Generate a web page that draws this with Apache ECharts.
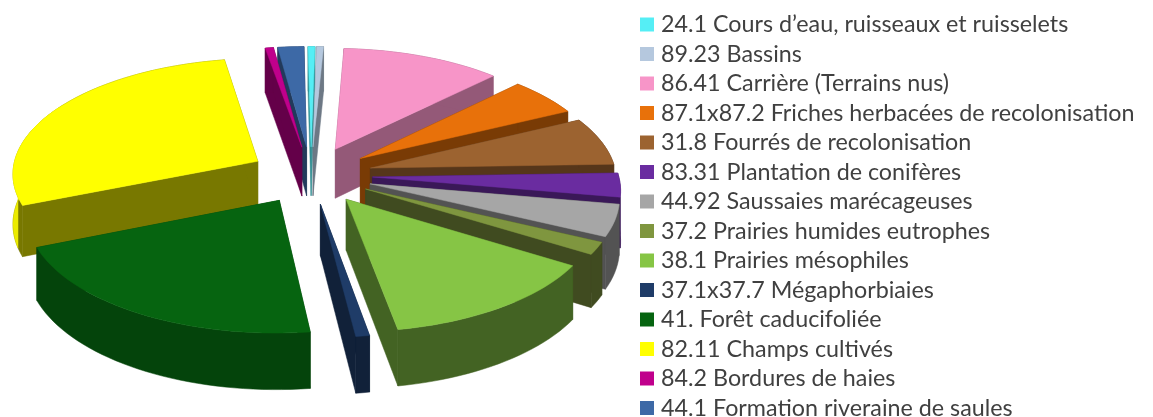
<!DOCTYPE html>
<html>
<head>
<meta charset="utf-8">
<style>
    html, body {margin:0;padding:0;background:#fff;}
    #chart {width:1153px;height:417px;}
</style>
<script src="https://cdn.jsdelivr.net/npm/echarts@6/dist/echarts.min.js"></script>
</head>
<body>
<div id="chart"></div>
<script>
    const categories = [
        '24.1 Cours d\u2019eau, ruisseaux et ruisselets',
        '89.23 Bassins',
        '86.41 Carrière (Terrains nus)',
        '87.1x87.2 Friches herbacées de recolonisation',
        '31.8 Fourrés de recolonisation',
        '83.31 Plantation de conifères',
        '44.92 Saussaies marécageuses',
        '37.2 Prairies humides eutrophes',
        '38.1 Prairies mésophiles',
        '37.1x37.7 Mégaphorbiaies',
        '41. Forêt caducifoliée',
        '82.11 Champs cultivés',
        '84.2 Bordures de haies',
        '44.1 Formation riveraine de saules'
    ];
    // share of the total, in %
    const shares = [0.5, 0.5, 11.7, 5.3, 6.7, 3.3, 4.4, 1.7, 13.4, 0.8, 20.8, 28.5, 0.6, 1.9];
    const colors = ['#55eef5', '#b5c8de', '#f795c8', '#e8710a', '#9c6330', '#6a2ca0', '#a6a6a6',
        '#7f963f', '#86c545', '#1f3c68', '#066410', '#ffff00', '#c0008c', '#3d69a6'];
    const sideFactors = [0.6, 0.6, 0.6, 0.52, 0.55, 0.55, 0.5, 0.5, 0.5, 0.55, 0.68, 0.47, 0.52, 0.55];

    const centerX = 311, centerY = 175;
    const radiusX = 246, radiusY = 115;
    const depth = 50, explode = 0.25, perspective = 0.095;
    const startAngle = -0.8;
    const litFrom = 252, litTo = 300;

    const total = shares.reduce((a, b) => a + b, 0);
    let acc = startAngle;
    const slices = shares.map((v, i) => {
        const from = acc;
        acc += v / total * 360;
        return {index: i, from: from, to: acc, mid: (from + acc) / 2};
    });

    function project(gx, gy, down) {
        const s = 1 / (1 - perspective * gy);
        return [centerX + gx * radiusX * s, centerY + (gy * radiusY + down * depth) * s];
    }

    function shade(color, factor) {
        const c = echarts.color.parse(color);
        return 'rgb(' + Math.round(c[0] * factor) + ',' + Math.round(c[1] * factor) + ',' + Math.round(c[2] * factor) + ')';
    }

    function buildSlice(slice) {
        const color = colors[slice.index];
        const rad = d => d * Math.PI / 180;
        const ox = explode * Math.sin(rad(slice.mid));
        const oy = -explode * Math.cos(rad(slice.mid));
        const arc = (from, to, down) => {
            const pts = [];
            const steps = Math.max(2, Math.ceil((to - from) / 2));
            for (let k = 0; k <= steps; k++) {
                const a = rad(from + (to - from) * k / steps);
                pts.push(project(ox + Math.sin(a), oy - Math.cos(a), down));
            }
            return pts;
        };
        const wall = (from, to) => arc(from, to, 0).concat(arc(from, to, 1).reverse());
        const apexTop = project(ox, oy, 0), apexBottom = project(ox, oy, 1);
        const top = arc(slice.from, slice.to, 0), bottom = arc(slice.from, slice.to, 1);
        const side = shade(color, sideFactors[slice.index]);
        const poly = (points, fill) => ({
            type: 'polygon',
            shape: {points: points},
            style: {fill: fill, stroke: fill, lineWidth: 0.5}
        });
        const children = [
            poly([apexTop, top[0], bottom[0], apexBottom], side),
            poly([apexTop, top[top.length - 1], bottom[bottom.length - 1], apexBottom], side),
            poly(wall(slice.from, slice.to), side)
        ];
        // the part of the outer wall facing west catches the light
        const litStart = Math.max(slice.from, litFrom), litEnd = Math.min(slice.to, litTo);
        if (litEnd > litStart) {
            children.push(poly(wall(litStart, litEnd), shade(color, 0.92)));
        }
        children.push(poly([apexTop].concat(top), color));
        return {type: 'group', children: children};
    }

    // back slices first, so the front ones paint over them
    const drawOrder = slices.slice().sort((a, b) => Math.sin((a.mid - 90) * Math.PI / 180) - Math.sin((b.mid - 90) * Math.PI / 180));

    const chart = echarts.init(document.getElementById('chart'));
    chart.setOption({
        animation: false,
        backgroundColor: '#fff',
        legend: {
            data: categories,
            orient: 'vertical',
            left: 640,
            top: 13,
            height: 600,
            padding: 0,
            itemWidth: 14,
            itemHeight: 14,
            itemGap: 6.5,
            selectedMode: false,
            icon: 'rect',
            textStyle: {
                fontFamily: 'Lato',
                fontSize: 23.3,
                color: '#404040',
                padding: [0, 0, 0, 2]
            }
        },
        series: drawOrder.map(slice => ({
            type: 'custom',
            name: categories[slice.index],
            coordinateSystem: 'none',
            itemStyle: {color: colors[slice.index]},
            data: [shares[slice.index]],
            renderItem: function () {
                return buildSlice(slice);
            }
        }))
    });
</script>
</body>
</html>
